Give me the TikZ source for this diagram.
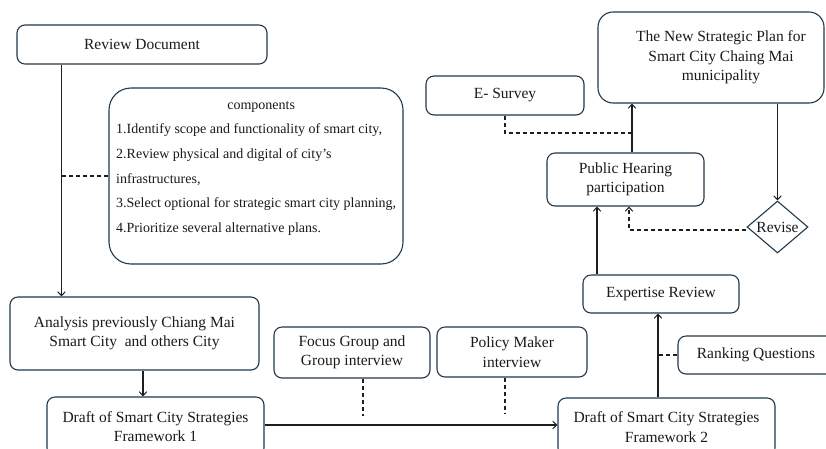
\documentclass[tikz,border=0pt]{standalone}
\usepackage{fontspec}
\setmainfont{Liberation Serif}
\usetikzlibrary{arrows.meta,shapes.geometric,calc}
\definecolor{bordc}{HTML}{1F3A4C}
\definecolor{txtc}{HTML}{1A1A1A}
\definecolor{linec}{HTML}{1E1E1E}
\tikzset{
  box/.style={draw=bordc, line width=1.1pt, rounded corners=8pt, inner sep=2pt,
    align=center, text=txtc, font=\fontsize{15.5}{19.5}\selectfont},
  conn/.style={draw=linec, line width=1.2pt},
  arr/.style={conn, -{Straight Barb[length=4pt,width=7.5pt,line width=1pt]}},
  dsh/.style={conn, dash pattern=on 4pt off 3pt},
}
\begin{document}
\begin{tikzpicture}[x=1pt,y=-1pt]
\useasboundingbox (0,0) rectangle (826,448);
\clip (0,0) rectangle (826,448);
\fill[white] (0,0) rectangle (826,448);

% boxes
\node[box, minimum width=250pt, minimum height=39pt] (rev) at (142,44.5) {Review Document};
\node[box, rounded corners=22pt, minimum width=294pt, minimum height=176pt] (comp) at (256,176) {};
\node[anchor=north west, inner sep=0pt, text=txtc, align=left,
      font=\fontsize{14}{24.7}\selectfont] (compt) at (116,101)
  {\makebox[290pt][c]{components}\\
   1.Identify scope and functionality of smart city,\\
   2.Review physical and digital of city's\\
   infrastructures,\\
   3.Select optional for strategic smart city planning,\\
   4.Prioritize several alternative plans.};
\node[box, minimum width=249pt, minimum height=73pt] (ana) at (134.5,333.5) {Analysis previously Chiang Mai\\Smart City\ \ and others City};
\node[box, minimum width=217pt, minimum height=59pt] (d1) at (155.5,426.5) {Draft of Smart City Strategies\\Framework 1};
\node[box, minimum width=156pt, minimum height=51pt] (fg) at (352,352.5) {Focus Group and\\Group interview};
\node[box, minimum width=150pt, minimum height=50pt] (pm) at (512,352) {Policy Maker\\interview};
\node[box, minimum width=217pt, minimum height=58pt] (d2) at (666.5,427) {Draft of Smart City Strategies\\Framework 2};
\node[box, minimum width=156pt, minimum height=38pt] (er) at (661,294) {Expertise Review};
\node[box, minimum width=156pt, minimum height=38pt] (rk) at (756,355) {Ranking Questions};
\node[box, minimum width=157pt, minimum height=53pt] (ph) at (625.5,179.5) {Public Hearing\\participation};
\node[box, minimum width=158pt, minimum height=39pt] (es) at (505,95.5) {E- Survey};
\node[box, rounded corners=15pt, minimum width=226pt, minimum height=91pt] (ns) at (711,57.5) {\hspace*{20pt}The New Strategic Plan for\\\hspace*{20pt}Smart City Chaing Mai\\\hspace*{20pt}municipality};
\node[draw=bordc, line width=1.1pt, diamond, aspect=1.2, inner sep=0pt,
      minimum width=61pt, minimum height=52pt, text=txtc,
      font=\fontsize{15.5}{19.5}\selectfont] (rv) at (777.5,227) {Revise};

% coordinates
\coordinate (c1) at ([xshift=45pt]rev.south west);
\coordinate (c2) at ([xshift=8.5pt]ana.south);
\coordinate (c3) at ([xshift=11pt]fg.south);
\coordinate (c3e) at ([yshift=-37pt]c3);
\coordinate (c4) at ([xshift=-7pt]pm.south);
\coordinate (c4e) at ([yshift=-36pt]c4);
\coordinate (e1) at ([xshift=-3pt]er.south);
\coordinate (p1) at ([xshift=-28.5pt]ph.south);
\coordinate (p2) at ([xshift=3.5pt]ph.south);
\coordinate (p3) at ([xshift=6.5pt]ph.north);
\coordinate (j) at (p3 |- 0,133);

% connectors
\draw[arr] (c1) -- (c1 |- ana.north);
\draw[dsh] (comp.west) -- (comp.west -| c1);
\draw[arr] (c2) -- (c2 |- d1.north);
\draw[arr] (d1.east |- 0,425) -- (d2.west |- 0,425);
\draw[dsh] (c3) -- (c3e);
\draw[dsh] (c4) -- (c4e);
\draw[arr] (e1 |- d2.north) -- (e1);
\draw[dsh] (rk.west) -- (rk.west -| e1);
\draw[arr] (p1 |- er.north) -- (p1);
\draw[arr, dash pattern=on 4pt off 3pt] (rv.west |- 0,230) -| (p2);
\draw[arr] (p3) -- (p3 |- ns.south);
\draw[dsh] (es.south) |- (j);
\draw[arr] (rv.north |- ns.south) -- (rv.north);
\end{tikzpicture}
\end{document}
